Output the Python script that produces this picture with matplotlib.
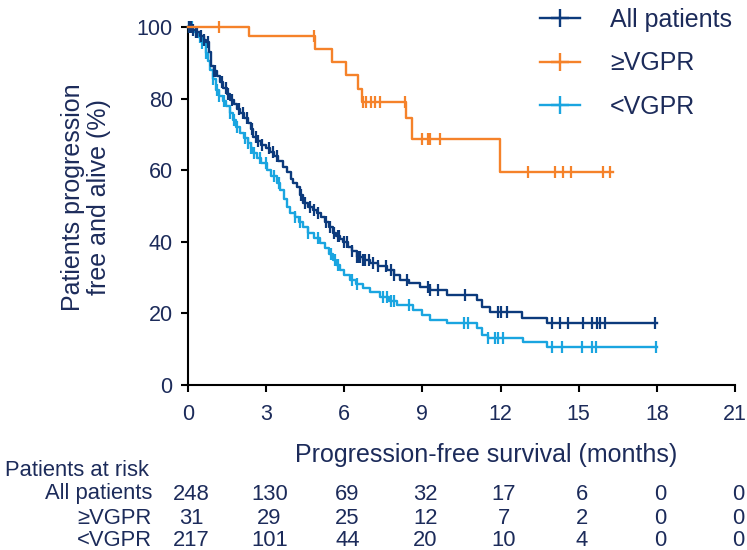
import numpy as np
import matplotlib
matplotlib.use('Agg')
import matplotlib.pyplot as plt
from matplotlib import font_manager
from matplotlib.lines import Line2D
from matplotlib.transforms import blended_transform_factory

# ---------------- data ----------------
series_names = ['All patients', '≥VGPR', '<VGPR']

all_t = [0, 0.15, 0.3, 0.45, 0.6, 0.7, 0.8, 0.88, 1.0, 1.1, 1.23, 1.35, 1.5, 1.61, 1.75,
         1.9, 2.0, 2.15, 2.3, 2.4, 2.5, 2.65, 2.8, 3.0, 3.15, 3.3, 3.45, 3.65, 3.8, 3.95,
         4.05, 4.18, 4.3, 4.41, 4.6, 4.8, 4.95, 5.1, 5.25, 5.4, 5.57, 5.7, 5.85, 5.95, 6.15,
         6.3, 6.49, 6.7, 6.99, 7.3, 7.64, 7.9, 8.14, 8.5, 8.91, 9.3, 9.94, 11.1, 11.3, 11.6,
         12.82, 13.78]
all_s = [100, 99.2, 98.5, 97.6, 96.5, 95.7, 93, 89.0, 87.8, 86.2, 84.5, 83, 81.3, 79.7, 78.6,
         77.2, 76.1, 74.7, 73.3, 71.4, 69.4, 68.2, 67.1, 66.2, 65.2, 64.0, 62.6, 61.0, 59.4, 57.6,
         56.5, 55.4, 53.2, 50.9, 49.6, 48.8, 48.1, 46.8, 45.5, 44.0, 42.5, 41.6, 40.7, 40.0, 38.6,
         37.3, 35.8, 35.0, 34.1, 33.3, 32.2, 30.8, 29.4, 28.4, 27.3, 26.4, 25.2, 23.8, 21.8, 20.4,
         18.6, 17.3]
all_end = 18.0
all_cens = [0.05, 0.1, 0.2, 0.3, 0.35, 0.5, 0.6, 0.75, 1.0, 1.05, 1.3, 1.45, 1.55, 1.7, 1.95,
            2.1, 2.25, 2.45, 2.6, 2.7, 2.85, 3.1, 3.25, 3.4, 4.35, 4.5, 4.7, 4.85, 5.0, 5.3,
            5.45, 5.6, 5.75, 5.8, 6.0, 6.1, 6.3, 6.5, 6.55, 6.6, 6.7, 6.8, 6.95, 7.1, 7.3,
            7.6, 7.8, 7.9, 8.4, 9.2, 9.3, 9.6, 10.63, 11.9, 12.0, 12.25, 13.97, 14.28, 14.59,
            15.16, 15.51, 15.7, 15.82, 16.0, 17.93]

ge_t = [0, 2.34, 4.87, 5.53, 6.07, 6.53, 6.68, 8.37, 8.60, 11.98]
ge_s = [100, 97.5, 93.9, 90.2, 86.6, 82.7, 79.1, 74.6, 68.7, 59.5]
ge_end = 16.3
ge_cens = [1.19, 4.83, 6.72, 6.85, 7.02, 7.18, 7.37, 8.33, 8.98, 9.21, 9.29, 9.67,
           13.05, 14.09, 14.40, 14.70, 15.93, 16.2]

lt_t = [0, 0.2, 0.4, 0.55, 0.69, 0.78, 0.84, 0.95, 1.07, 1.2, 1.35, 1.46, 1.6, 1.73, 1.84,
        2.0, 2.15, 2.3, 2.4, 2.5, 2.65, 2.8, 3.03, 3.2, 3.42, 3.55, 3.68, 3.80, 3.92, 4.1,
        4.25, 4.41, 4.6, 4.85, 5.07, 5.25, 5.4, 5.57, 5.7, 5.83, 6.0, 6.22, 6.45, 6.72, 7.0,
        7.37, 7.7, 8.02, 8.64, 9.0, 9.29, 9.94, 11.1, 11.3, 11.5, 12.86, 13.78]
lt_s = [100, 98.6, 97.2, 95.5, 92.7, 90.5, 88.1, 85.5, 82.5, 80.8, 79.2, 77.8, 76, 74.1, 72.2,
        70.5, 69, 67.5, 66.2, 64.9, 63.5, 62, 60.1, 58.5, 56.5, 54.5, 52, 49.8, 48.1, 47,
        45.5, 44.2, 42.5, 41, 39.7, 38.2, 36.5, 35.0, 33.5, 32.2, 30.8, 29.4, 28.3, 27.1, 26,
        24.6, 23.5, 22.4, 21.0, 19.5, 18.2, 17.3, 15.9, 14.0, 13.1, 12.0, 10.6]
lt_end = 18.0
lt_cens = [0.05, 0.15, 0.3, 0.45, 0.55, 0.7, 0.95, 1.1, 1.2, 1.4, 1.6, 1.75, 1.9, 2.2, 2.3,
           2.4, 2.55, 2.75, 3.0, 3.3, 3.5, 4.1, 4.3, 4.6, 5.0, 5.5, 5.65, 5.75, 6.3, 6.5,
           7.5, 7.65, 7.8, 7.9, 8.5, 10.6, 10.75, 11.5, 11.8, 11.9, 12.1, 13.97, 14.36,
           15.13, 15.5, 15.66, 17.97]

x_ticks = [0, 3, 6, 9, 12, 15, 18, 21]
y_ticks = [0, 20, 40, 60, 80, 100]
risk_title = 'Patients at risk'
risk_all = [248, 130, 69, 32, 17, 6, 0, 0]
risk_ge = [31, 29, 25, 12, 7, 2, 0, 0]
risk_lt = [217, 101, 44, 20, 10, 4, 0, 0]

# ---------------- style ----------------
C_ALL = '#0c3a7c'
C_GE = '#f5822a'
C_LT = '#1aa5e0'
C_TXT = '#1c2b5a'

plt.rcParams['font.family'] = ['Liberation Sans', 'DejaVu Sans']

names = {f.name for f in font_manager.fontManager.ttflist}
if 'Liberation Sans Narrow' in names:
    table_family = ['Liberation Sans Narrow', 'Liberation Sans', 'DejaVu Sans']
    table_size = 18.0
else:
    table_family = ['Liberation Sans', 'DejaVu Sans']
    table_size = 15.8

fig = plt.figure(figsize=(7.47, 5.5), dpi=100)
W, H = 747, 550
ax = fig.add_axes([188 / W, 1 - 385 / H, (735 - 188) / W, (385 - 27) / H])


def km(t, s, end, cens, color, z):
    xs = list(t) + [end]
    ys = list(s) + [s[-1]]
    ax.step(xs, ys, where='post', color=color, lw=1.7, zorder=z, clip_on=False)
    ta = np.asarray(t)
    sa = np.asarray(s)
    c = np.asarray(cens)
    idx = np.searchsorted(ta, c, side='right') - 1
    ax.plot(c, sa[idx], ls='none', marker='|', ms=8, mew=1.6, color=color,
            zorder=z, clip_on=False)


km(lt_t, lt_s, lt_end, lt_cens, C_LT, 3)
km(all_t, all_s, all_end, all_cens, C_ALL, 4)
km(ge_t, ge_s, ge_end, ge_cens, C_GE, 5)

ax.set_xlim(0, 21)
ax.set_ylim(0, 100)
ax.set_xticks(x_ticks)
ax.set_yticks(y_ticks)
ax.spines['top'].set_visible(False)
ax.spines['right'].set_visible(False)
for sp in ('left', 'bottom'):
    ax.spines[sp].set_linewidth(1.5)
    ax.spines[sp].set_color('black')
ax.tick_params(axis='both', direction='out', length=5, width=1.5, color='black',
               labelcolor=C_TXT, labelsize=15.5)
ax.tick_params(axis='x', pad=9)
ax.tick_params(axis='y', pad=6)

ax.set_xlabel('Progression-free survival (months)', fontsize=18, color=C_TXT,
              ha='center', va='center')
ax.xaxis.set_label_coords((486 - 188) / 547, (385 - 455) / 358)
ax.set_ylabel('Patients progression\nfree and alive (%)', fontsize=18, color=C_TXT,
              ha='center', va='center', linespacing=1.1)
ax.yaxis.set_label_coords((86 - 188) / 547, (385 - 197) / 358)

handles = [Line2D([], [], color=c, lw=1.7, marker='+', ms=13, mew=1.7)
           for c in (C_ALL, C_GE, C_LT)]
ax.legend(handles, series_names, loc='upper left',
          bbox_to_anchor=(540 / W, 1 - 8 / H), bbox_transform=fig.transFigure,
          frameon=False, fontsize=18, labelcolor=C_TXT, handlelength=1.6,
          handletextpad=1.2, labelspacing=0.78, borderpad=0, borderaxespad=0)

# at-risk table
fig.text(5 / W, 1 - 471 / H, risk_title, ha='left', va='center', color=C_TXT,
         fontsize=table_size, family=table_family)
tr = blended_transform_factory(ax.transData, fig.transFigure)
row_y = [494, 518, 541]
for name, vals, yy in zip(series_names, [risk_all, risk_ge, risk_lt], row_y):
    fig.text(152 / W, 1 - yy / H, name, ha='right', va='center', color=C_TXT,
             fontsize=table_size, family=table_family)
    for xv, v in zip(x_ticks, vals):
        ax.text(xv + 0.12, 1 - yy / H, str(v), transform=tr, ha='center', va='center',
                color=C_TXT, fontsize=table_size, family=table_family, clip_on=False)

fig.savefig('out.png', dpi=100)
